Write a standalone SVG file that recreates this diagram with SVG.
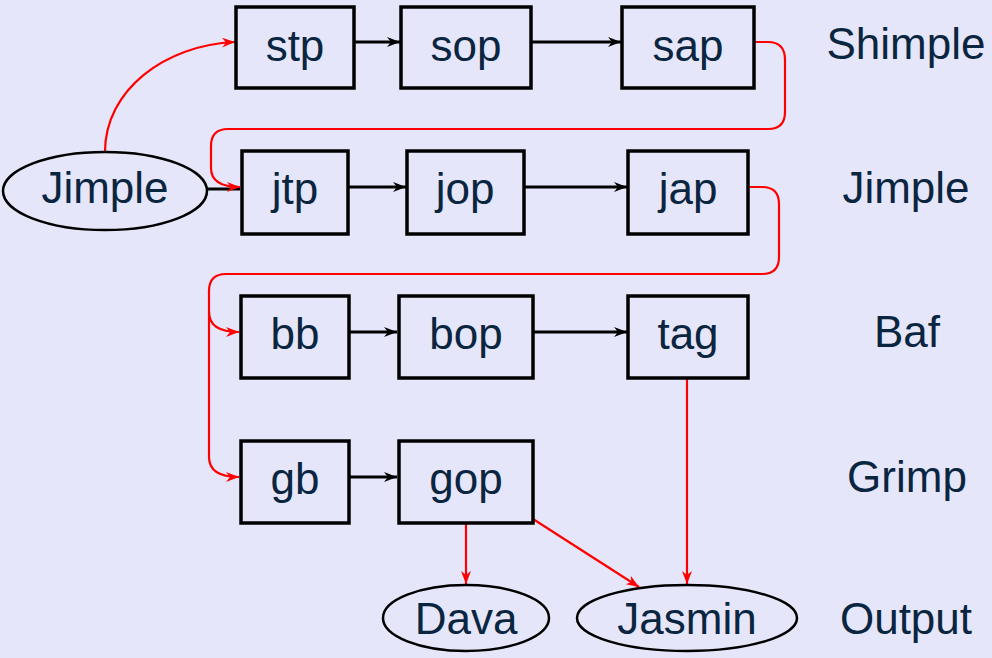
<svg xmlns="http://www.w3.org/2000/svg" width="992" height="658" viewBox="0 0 992 658">
<style>
.box{fill:none;stroke:#000;stroke-width:3.5}
.ell{fill:none;stroke:#000;stroke-width:2.5}
.t{font-family:"Liberation Sans",Arial,sans-serif;font-size:44px;fill:#0a2540;text-anchor:middle}
.bk{fill:none;stroke:#000;stroke-width:3}
.rd{fill:none;stroke:#ff0000;stroke-width:2.2}
</style>
<defs>
<marker id="ab" markerUnits="userSpaceOnUse" markerWidth="14" markerHeight="10" refX="13" refY="5" orient="auto"><path d="M0,0 L13,5 L0,10 L4,5 Z" fill="#000"/></marker>
<marker id="ar" markerUnits="userSpaceOnUse" markerWidth="14" markerHeight="10" refX="13" refY="5" orient="auto"><path d="M0,0 L13,5 L0,10 L4,5 Z" fill="#ff0000"/></marker>
</defs>
<rect width="992" height="658" fill="#e6e6fa"/>
<g id="connectors">
<path class="bk" d="M354,42 H400" marker-end="url(#ab)"/>
<path class="bk" d="M531,42 H621" marker-end="url(#ab)"/>
<path class="bk" d="M207,189 H240" stroke-width="2.5"/>
<path class="bk" d="M348,187 H406" marker-end="url(#ab)"/>
<path class="bk" d="M524,187 H627" marker-end="url(#ab)"/>
<path class="bk" d="M349,332 H397" stroke-width="2.5" marker-end="url(#ab)"/>
<path class="bk" d="M533,332 H627" stroke-width="2.5" marker-end="url(#ab)"/>
<path class="bk" d="M349,477 H397" stroke-width="2.5" marker-end="url(#ab)"/>
<path class="rd" d="M105,152 C105,90 165,45 235,42" marker-end="url(#ar)"/>
<path class="rd" d="M754,42 H768 Q785,42 785,60 V112 Q785,129 768,129 H228 Q211,129 211,146 V168 Q211,187 240,187" marker-end="url(#ar)"/>
<path class="rd" d="M748,187 H762 Q779,187 779,204 V257 Q779,274 762,274 H226 Q209,274 209,291 V312 Q209,332 239,332" marker-end="url(#ar)"/>
<path class="rd" d="M209,312 V457 Q209,477 239,477" marker-end="url(#ar)"/>
<path class="rd" d="M466,523 V584" marker-end="url(#ar)"/>
<path class="rd" d="M533,519 L639,587" marker-end="url(#ar)"/>
<path class="rd" d="M687,378 V584" marker-end="url(#ar)"/>
</g>
<g id="n_stp"><rect class="box" x="236" y="7" width="118" height="81"/><text class="t" x="295" y="61">stp</text></g>
<g id="n_sop"><rect class="box" x="401" y="7" width="130" height="81"/><text class="t" x="466" y="61">sop</text></g>
<g id="n_sap"><rect class="box" x="622" y="7" width="132" height="81"/><text class="t" x="688" y="61">sap</text></g>
<g id="n_jimple"><ellipse class="ell" cx="105" cy="191" rx="102" ry="39"/><text class="t" x="105" y="203">Jimple</text></g>
<g id="n_jtp"><rect class="box" x="242" y="151" width="106" height="83"/><text class="t" x="295" y="204">jtp</text></g>
<g id="n_jop"><rect class="box" x="407" y="151" width="117" height="83"/><text class="t" x="465" y="204">jop</text></g>
<g id="n_jap"><rect class="box" x="628" y="151" width="120" height="83"/><text class="t" x="688" y="204">jap</text></g>
<g id="n_bb"><rect class="box" x="241" y="296" width="108" height="82"/><text class="t" x="295" y="349">bb</text></g>
<g id="n_bop"><rect class="box" x="399" y="296" width="134" height="82"/><text class="t" x="466" y="349">bop</text></g>
<g id="n_tag"><rect class="box" x="628" y="296" width="120" height="82"/><text class="t" x="688" y="349">tag</text></g>
<g id="n_gb"><rect class="box" x="241" y="441" width="108" height="82"/><text class="t" x="295" y="494">gb</text></g>
<g id="n_gop"><rect class="box" x="399" y="441" width="134" height="82"/><text class="t" x="466" y="494">gop</text></g>
<g id="n_dava"><ellipse class="ell" cx="466" cy="618" rx="83" ry="33"/><text class="t" x="466" y="634">Dava</text></g>
<g id="n_jasmin"><ellipse class="ell" cx="687" cy="618" rx="110" ry="33"/><text class="t" x="687" y="634">Jasmin</text></g>
<g id="labels">
<text class="t" x="906" y="59">Shimple</text>
<text class="t" x="906" y="203">Jimple</text>
<text class="t" x="907" y="347">Baf</text>
<text class="t" x="907" y="492">Grimp</text>
<text class="t" x="906" y="634">Output</text>
</g>
</svg>
